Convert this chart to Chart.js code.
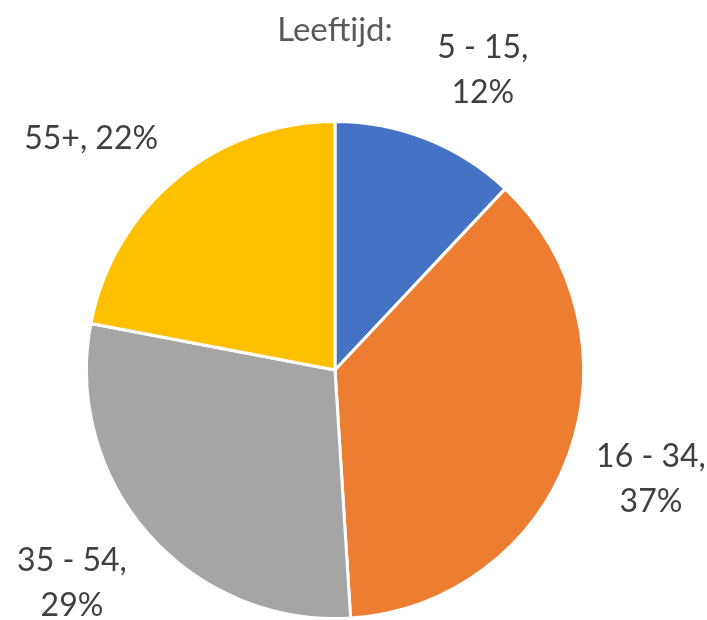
<!DOCTYPE html>
<html>
<head>
<meta charset="utf-8">
<script src="https://cdn.jsdelivr.net/npm/chart.js@4"></script>
<style>
  html, body { margin: 0; padding: 0; background: #fff; }
  #wrap { width: 707px; height: 620px; }
</style>
</head>
<body>
<div id="wrap"><canvas id="myChart"></canvas></div>
<script>
const TITLE = 'Leeftijd:';
const categories = ['5 - 15', '16 - 34', '35 - 54', '55+'];
const shares = [12, 37, 29, 22];
// how the label is broken into lines, like in the picture
const labelLines = [
    ['5 - 15,', '12%'],
    ['16 - 34,', '37%'],
    ['35 - 54,', '29%'],
    ['55+, 22%']
];
const colors = ['#4472C4', '#ED7D31', '#A5A5A5', '#FFC000'];

const FONT = 'Lato, "Open Sans", sans-serif';

// draws title and the outside labels, placed from each arc's angle
const outsideLabels = {
    id: 'outsideLabels',
    afterDraw(chart) {
        const ctx = chart.ctx;
        const meta = chart.getDatasetMeta(0);
        const cx = meta.data[0].x;
        const cy = meta.data[0].y;
        const r = meta.data[0].outerRadius;

        ctx.save();
        ctx.textAlign = 'center';
        ctx.textBaseline = 'middle';

        ctx.fillStyle = '#595959';
        ctx.font = '33px ' + FONT;
        ctx.fillText(TITLE, cx, 30);

        ctx.fillStyle = '#404040';
        ctx.font = '32px ' + FONT;
        const lineH = 45;
        meta.data.forEach((arc, i) => {
            const mid = (arc.startAngle + arc.endAngle) / 2;
            const ax = cx + Math.cos(mid) * (r + 29);
            const ay = cy + Math.sin(mid) * (r + 29);
            const lines = labelLines[i];
            const w = Math.max(...lines.map(l => ctx.measureText(l).width));
            const h = lines.length * lineH;
            // left side labels end at the anchor, right side ones start there
            const bx = ax + Math.sign(Math.cos(mid)) * w / 2;
            const by = ay + Math.sin(mid) * h / 2;
            lines.forEach((l, j) => {
                ctx.fillText(l, bx, by - h / 2 + lineH / 2 + j * lineH);
            });
        });
        ctx.restore();
    }
};

const ctx = document.getElementById('myChart').getContext('2d');
const myChart = new Chart(ctx, {
    type: 'pie',
    data: {
        labels: categories,
        datasets: [{
            data: shares,
            backgroundColor: colors,
            borderColor: '#ffffff',
            borderWidth: 3
        }]
    },
    options: {
        responsive: true,
        maintainAspectRatio: false,
        animation: false,
        layout: {
            padding: { left: 85, right: 122, top: 120, bottom: 0 }
        },
        plugins: {
            legend: { display: false },
            title: { display: false },
            tooltip: { enabled: false }
        }
    },
    plugins: [outsideLabels]
});
</script>
</body>
</html>
